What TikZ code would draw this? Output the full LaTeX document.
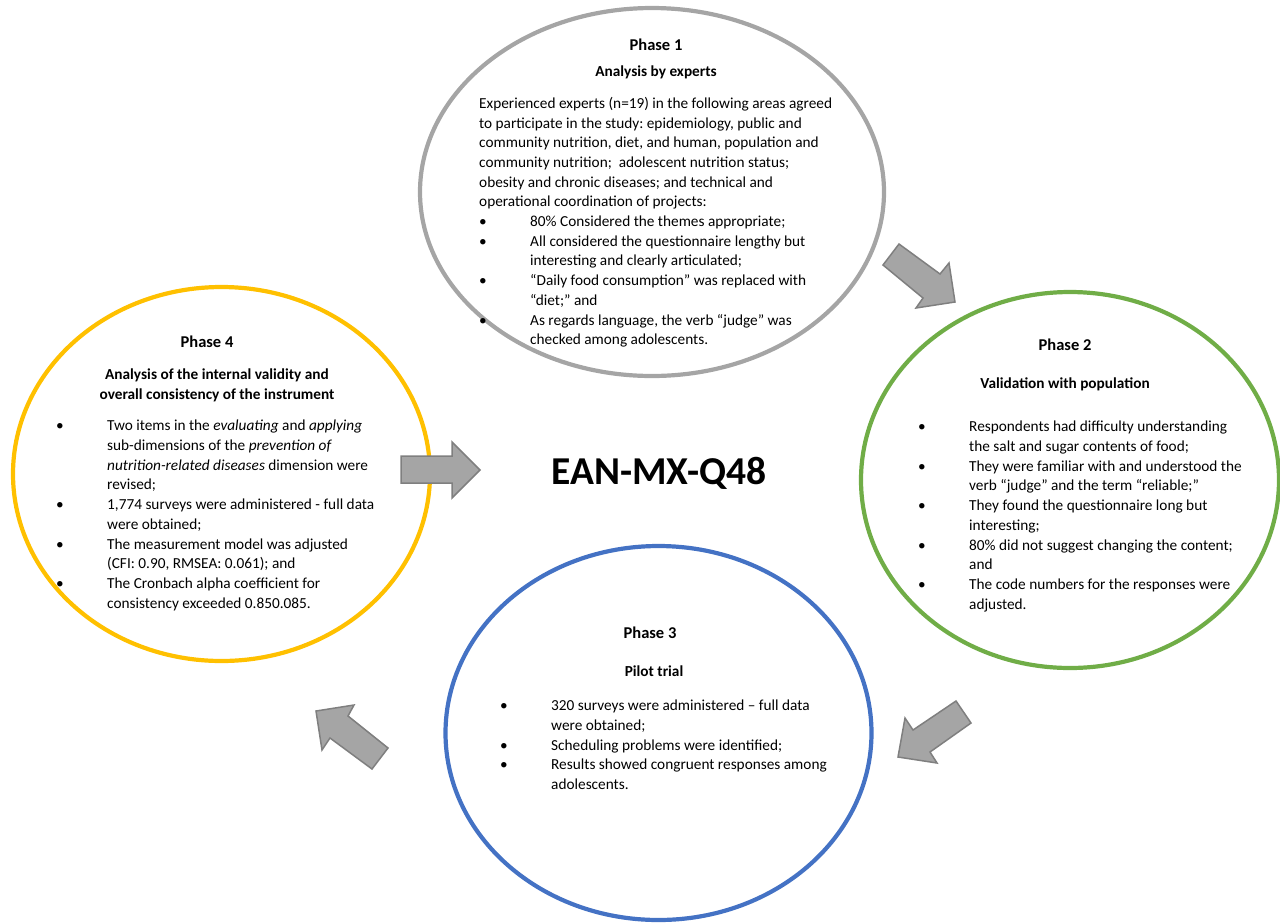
\documentclass[tikz,border=0pt]{standalone}
\usepackage{fontspec}
\setmainfont{Carlito}
\usetikzlibrary{shapes.geometric}
\frenchspacing
\definecolor{pone}{HTML}{A5A5A5}
\definecolor{ptwo}{HTML}{70AD47}
\definecolor{pthree}{HTML}{4472C4}
\definecolor{pfour}{HTML}{FFC000}
\definecolor{arrfill}{HTML}{A5A5A5}
\definecolor{arrline}{HTML}{7F7F7F}
\newcommand{\bi}{\makebox[51pt][l]{\textbullet}}
\newcommand{\bn}{\hspace*{51pt}}
\tikzset{
  phase/.style={ellipse, draw=#1, line width=4.2pt, inner sep=0pt, outer sep=0pt},
  body/.style={anchor=north west, align=left, inner sep=0pt, font={\fontsize{15.3}{19.7}\selectfont\frenchspacing}},
  head/.style={anchor=base, inner sep=0pt, font={\fontsize{16.5}{19.7}\selectfont\bfseries}},
  sub/.style={anchor=base, inner sep=0pt, font={\fontsize{15.3}{19.7}\selectfont\bfseries}},
  blockarrow/.style={fill=arrfill, draw=arrline, line width=1.5pt, line join=miter}
}
\begin{document}
\begin{tikzpicture}[x=1pt, y=-1pt]
\useasboundingbox (0,0) rectangle (1280,922);
% ellipses
\node[phase=pone, minimum width=464pt, minimum height=368pt] (p1) at (652,192) {};
\node[phase=ptwo, minimum width=418pt, minimum height=376pt] (p2) at (1070,480) {};
\node[phase=pthree, minimum width=426pt, minimum height=374pt] (p3) at (658.5,733) {};
\node[phase=pfour, minimum width=417pt, minimum height=374pt] (p4) at (221.5,474) {};
% title
\node[inner sep=0pt, font={\fontsize{39.5}{44}\selectfont\bfseries}] (ean) at (659,473) {EAN-MX-Q48};
% Phase 1
\node[head] (h1) at (656,50) {Phase 1};
\node[sub] (s1) at (656,76) {Analysis by experts};
\node[body] (t1) at (479,97) {Experienced experts (n=19) in the following areas agreed\\
to participate in the study: epidemiology, public and\\
community nutrition, diet, and human, population and\\
community nutrition;\ \ adolescent nutrition status;\\
obesity and chronic diseases; and technical and\\
operational coordination of projects:\\
\bi 80\% Considered the themes appropriate;\\
\bi All considered the questionnaire lengthy but\\
\bn interesting and clearly articulated;\\
\bi “Daily food consumption” was replaced with\\
\bn “diet;” and\\
\bi As regards language, the verb “judge” was\\
\bn checked among adolescents.};
% Phase 2
\node[head] (h2) at (1065,350) {Phase 2};
\node[sub] (s2) at (1065,388) {Validation with population};
\node[body] (t2) at (918,421) {\bi Respondents had difficulty understanding\\
\bn the salt and sugar contents of food;\\
\bi They were familiar with and understood the\\
\bn verb “judge” and the term “reliable;”\\
\bi They found the questionnaire long but\\
\bn interesting;\\
\bi 80\% did not suggest changing the content;\\
\bn and\\
\bi The code numbers for the responses were\\
\bn adjusted.};
% Phase 3
\node[head] (h3) at (650,638) {Phase 3};
\node[sub] (s3) at (654,676) {Pilot trial};
\node[body] (t3) at (500,700) {\bi 320 surveys were administered – full data\\
\bn were obtained;\\
\bi Scheduling problems were identified;\\
\bi Results showed congruent responses among\\
\bn adolescents.};
% Phase 4
\node[head] (h4) at (207,347) {Phase 4};
\node[sub, anchor=north, align=center] (s4) at (217,369) {Analysis of the internal validity and\\overall consistency of the instrument};
\node[body] (t4) at (56,420) {\bi Two items in the \emph{evaluating} and \emph{applying}\\
\bn sub-dimensions of the \emph{prevention of}\\
\bn \emph{nutrition-related diseases} dimension were\\
\bn revised;\\
\bi 1,774 surveys were administered - full data\\
\bn were obtained;\\
\bi The measurement model was adjusted\\
\bn (CFI: 0.90, RMSEA: 0.061); and\\
\bi The Cronbach alpha coefficient for\\
\bn consistency exceeded 0.850.085.};
% block arrows
\draw[blockarrow] (883,265) -- (899,244) -- (940,274) -- (949,263) -- (955,302) -- (916,308) -- (923,298) -- cycle;
\draw[blockarrow] (956,701) -- (971,723) -- (930,752) -- (937,763) -- (898,757) -- (905,718) -- (913,730) -- cycle;
\draw[blockarrow] (388,748) -- (372,769) -- (330,738) -- (322,750) -- (316,711) -- (354,705) -- (348,716) -- cycle;
\draw[blockarrow] (401,456) -- (452,456) -- (452,442) -- (480,470) -- (452,498) -- (452,483) -- (401,483) -- cycle;
\end{tikzpicture}
\end{document}
